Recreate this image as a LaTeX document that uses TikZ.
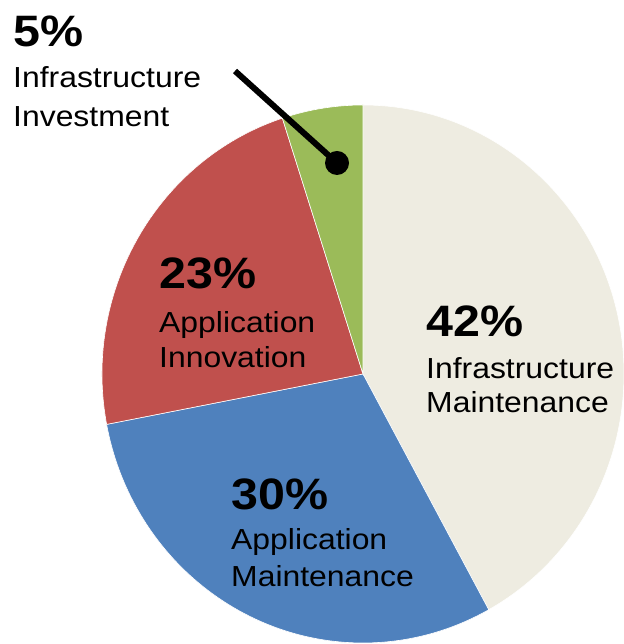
\documentclass[tikz,border=0pt]{standalone}
\usepackage{fontspec}
\setmainfont{Liberation Sans}[FakeStretch=1.1]
\usepackage{xcolor}
\definecolor{tanpie}{HTML}{EEECE1}
\definecolor{bluepie}{HTML}{4F81BD}
\definecolor{redpie}{HTML}{C0504D}
\definecolor{greenpie}{HTML}{9BBB59}
\tikzset{
  dot/.style = {circle, fill, minimum size=#1,
                inner sep=0pt, outer sep=0pt},
  dot/.default = 24pt,
  wedge/.style = {fill=#1, draw=white, line width=0.6pt},
  pct/.style = {anchor=base west, inner sep=0pt,
                font=\fontsize{44}{44}\selectfont\bfseries},
  lbl/.style = {anchor=base west, inner sep=0pt,
                font=\fontsize{29}{34}\selectfont}
}

\begin{document}
\begin{tikzpicture}[x=1pt, y=1pt]
	\def \rx{261pt}
	\def \ry{269pt}
	\useasboundingbox (0,0) rectangle (623,644);
	\coordinate (c) at (363,270);

	% Slices (clockwise from the top)
	\filldraw[wedge=tanpie]   (c) -- ++(90:{\rx} and {\ry}) arc[start angle=90, end angle=-61.2, x radius=\rx, y radius=\ry] -- cycle; % 42
	\filldraw[wedge=bluepie]  (c) -- ++(-61.2:{\rx} and {\ry}) arc[start angle=-61.2, end angle=-169.2, x radius=\rx, y radius=\ry] -- cycle; % 30
	\filldraw[wedge=redpie]   (c) -- ++(-169.2:{\rx} and {\ry}) arc[start angle=-169.2, end angle=-252, x radius=\rx, y radius=\ry] -- cycle; % 23
	\filldraw[wedge=greenpie] (c) -- ++(-252:{\rx} and {\ry}) arc[start angle=-252, end angle=-270, x radius=\rx, y radius=\ry] -- cycle; % 5

	% Labels
	\node[pct] (pInfraInv) at (13,597) {5\%};
	\node[lbl] (tInfraInv1) at (13,556) {Infrastructure};
	\node[lbl] (tInfraInv2) at (13,517) {Investment};

	\node[pct] (pAppInno) at (159,355) {23\%};
	\node[lbl] (tAppInno1) at (159,311) {Application};
	\node[lbl] (tAppInno2) at (159,276) {Innovation};

	\node[pct] (pInfraMain) at (426,307) {42\%};
	\node[lbl] (tInfraMain1) at (426,265) {Infrastructure};
	\node[lbl] (tInfraMain2) at (426,231) {Maintenance};

	\node[pct] (pAppMain) at (231,134) {30\%};
	\node[lbl] (tAppMain1) at (231,94) {Application};
	\node[lbl] (tAppMain2) at (231,57) {Maintenance};

	% Leader to the small slice
	\coordinate (lead) at (235,573);
	\node[dot] (tip) at (337,481) {};
	\draw[line width=6pt] (lead) -- (tip.center);
\end{tikzpicture}
\end{document}
